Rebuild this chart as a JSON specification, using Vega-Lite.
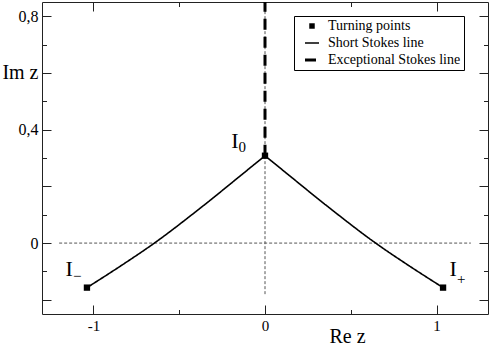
{
  "$schema": "https://vega.github.io/schema/vega-lite/v6.json",
  "width": 446,
  "height": 312,
  "autosize": {"type": "none"},
  "padding": {"left": 42, "top": 2, "right": 2, "bottom": 31},
  "background": "white",
  "config": {
    "view": {"stroke": "#222", "strokeWidth": 1},
    "axis": {"domain": false, "grid": false, "tickColor": "#222", "tickWidth": 1, "labelFont": "Liberation Serif", "labelColor": "black", "titleFont": "Liberation Serif", "labelOverlap": false, "labelBound": false, "labelFlush": false}
  },
  "resolve": {"axis": {"x": "independent", "y": "independent"}},
  "layer": [
    {
      "data": {"values": [
        {"x": -1.2, "x2": 1.2, "y": 0, "y2": 0},
        {"x": 0, "x2": 0, "y": -0.18, "y2": 0.85}
      ]},
      "mark": {"type": "rule", "color": "#555", "strokeDash": [3, 2], "strokeWidth": 1},
      "encoding": {
        "x": {"field": "x", "type": "quantitative", "scale": {"domain": [-1.3, 1.3], "nice": false, "zero": false},
          "axis": {"orient": "bottom", "values": [-1, 0, 1], "tickSize": -9, "labelPadding": 13, "labelFontSize": 15,
            "labelExpr": "datum.value == -1 ? '-1' : (datum.value == 1 ? '1' : '0')",
            "title": "Re z", "titleFontSize": 20, "titleFontWeight": "normal", "titleColor": "black", "titleX": 305, "titleY": 28, "titleBaseline": "alphabetic", "titleAlign": "center"}},
        "x2": {"field": "x2"},
        "y": {"field": "y", "type": "quantitative", "scale": {"domain": [-0.25, 0.85], "nice": false, "zero": false},
          "axis": {"orient": "left", "values": [-0.2, 0, 0.2, 0.4, 0.6, 0.8], "tickSize": -9, "labelPadding": 13,
            "labelFontSize": {"condition": {"test": "datum.value == 0.6", "value": 20}, "value": 16},
            "labelExpr": "datum.value == 0.8 ? '0,8' : (datum.value == 0.4 ? '0,4' : (datum.value == 0 ? '0' : (datum.value == 0.6 ? 'Im z' : '')))",
            "title": null}},
        "y2": {"field": "y2"}
      }
    },
    {
      "data": {"values": [
        {"kind": "Short Stokes line", "seg": "L", "x": -1.038, "y": -0.157},
        {"kind": "Short Stokes line", "seg": "L", "x": -0.84, "y": -0.08},
        {"kind": "Short Stokes line", "seg": "L", "x": -0.645, "y": 0.0},
        {"kind": "Short Stokes line", "seg": "L", "x": -0.378, "y": 0.123},
        {"kind": "Short Stokes line", "seg": "L", "x": -0.128, "y": 0.245},
        {"kind": "Short Stokes line", "seg": "L", "x": 0, "y": 0.308},
        {"kind": "Short Stokes line", "seg": "R", "x": 0, "y": 0.308},
        {"kind": "Short Stokes line", "seg": "R", "x": 0.128, "y": 0.245},
        {"kind": "Short Stokes line", "seg": "R", "x": 0.378, "y": 0.123},
        {"kind": "Short Stokes line", "seg": "R", "x": 0.645, "y": 0.0},
        {"kind": "Short Stokes line", "seg": "R", "x": 0.84, "y": -0.08},
        {"kind": "Short Stokes line", "seg": "R", "x": 1.038, "y": -0.157}
      ]},
      "mark": {"type": "line", "color": "black", "strokeWidth": 1.6, "interpolate": "monotone"},
      "encoding": {
        "x": {"field": "x", "type": "quantitative", "axis": {"orient": "bottom", "values": [-0.5, 0.5], "tickSize": -4.5, "labels": false, "title": null}},
        "y": {"field": "y", "type": "quantitative", "axis": {"orient": "left", "values": [-0.1, 0.1, 0.3, 0.5, 0.7], "tickSize": -4.5, "labels": false, "title": null}},
        "detail": {"field": "seg"},
        "strokeDash": {"field": "kind", "type": "nominal",
          "scale": {"domain": ["Turning points", "Short Stokes line", "Exceptional Stokes line"], "range": [[1, 0], [1, 0], [11, 7]]},
          "legend": {
            "orient": "none", "legendX": 252, "legendY": 14, "title": null,
            "values": ["Turning points", "Short Stokes line", "Exceptional Stokes line"],
            "strokeColor": "black", "fillColor": "white", "padding": 3,
            "labelFont": "Liberation Serif", "labelFontSize": 14, "labelColor": "black", "labelOffset": 9, "labelLimit": 300,
            "symbolType": "stroke", "symbolSize": 196, "symbolStrokeColor": "black", "symbolOffset": 8, "rowPadding": 3,
            "encode": {"symbols": {"update": {
              "shape": {"signal": "datum.value === 'Turning points' ? 'square' : 'stroke'"},
              "size": {"signal": "datum.value === 'Turning points' ? 30 : 196"},
              "fill": {"signal": "datum.value === 'Turning points' ? 'black' : 'transparent'"},
              "stroke": {"value": "black"},
              "strokeWidth": {"signal": "datum.value === 'Exceptional Stokes line' ? 3 : (datum.value === 'Turning points' ? 0 : 1.5)"},
              "strokeDash": {"signal": "datum.value === 'Exceptional Stokes line' ? [9, 3.5] : [1, 0]"}
            }}}
          }}
      }
    },
    {
      "data": {"values": [
        {"kind": "Exceptional Stokes line", "x": 0, "y": 0.308},
        {"kind": "Exceptional Stokes line", "x": 0, "y": 0.85}
      ]},
      "mark": {"type": "line", "color": "black", "strokeWidth": 3},
      "encoding": {
        "x": {"field": "x", "type": "quantitative", "axis": {"orient": "top", "values": [-1, 0, 1], "tickSize": -9, "labels": false, "title": null}},
        "y": {"field": "y", "type": "quantitative", "axis": {"orient": "right", "values": [-0.2, 0, 0.2, 0.4, 0.6, 0.8], "tickSize": -9, "labels": false, "title": null}},
        "order": {"field": "y", "type": "quantitative"},
        "strokeDash": {"field": "kind", "type": "nominal",
          "scale": {"domain": ["Turning points", "Short Stokes line", "Exceptional Stokes line"], "range": [[1, 0], [1, 0], [11, 7]]}}
      }
    },
    {
      "data": {"values": [
        {"x": -1.038, "y": -0.157},
        {"x": 0, "y": 0.308},
        {"x": 1.038, "y": -0.157}
      ]},
      "mark": {"type": "point", "shape": "square", "filled": true, "color": "black", "size": 40, "opacity": 1},
      "encoding": {
        "x": {"field": "x", "type": "quantitative", "axis": {"orient": "top", "values": [-0.5, 0.5], "tickSize": -4.5, "labels": false, "title": null}},
        "y": {"field": "y", "type": "quantitative", "axis": {"orient": "right", "values": [-0.1, 0.1, 0.3, 0.5, 0.7], "tickSize": -4.5, "labels": false, "title": null}}
      }
    },
    {
      "data": {"values": [
        {"x": -1.163, "y": -0.116, "t": "I"},
        {"x": -0.197, "y": 0.335, "t": "I"},
        {"x": 1.076, "y": -0.116, "t": "I"}
      ]},
      "mark": {"type": "text", "font": "Liberation Serif", "fontSize": 22, "align": "left", "baseline": "alphabetic", "color": "black"},
      "encoding": {
        "x": {"field": "x", "type": "quantitative", "axis": null},
        "y": {"field": "y", "type": "quantitative", "axis": null},
        "text": {"field": "t"}
      }
    },
    {
      "data": {"values": [
        {"x": -1.12, "y": -0.132, "t": "−"},
        {"x": -0.155, "y": 0.322, "t": "0"},
        {"x": 1.12, "y": -0.144, "t": "+"}
      ]},
      "mark": {"type": "text", "font": "Liberation Serif", "fontSize": 15, "align": "left", "baseline": "alphabetic", "color": "black"},
      "encoding": {
        "x": {"field": "x", "type": "quantitative", "axis": null},
        "y": {"field": "y", "type": "quantitative", "axis": null},
        "text": {"field": "t"}
      }
    }
  ]
}
